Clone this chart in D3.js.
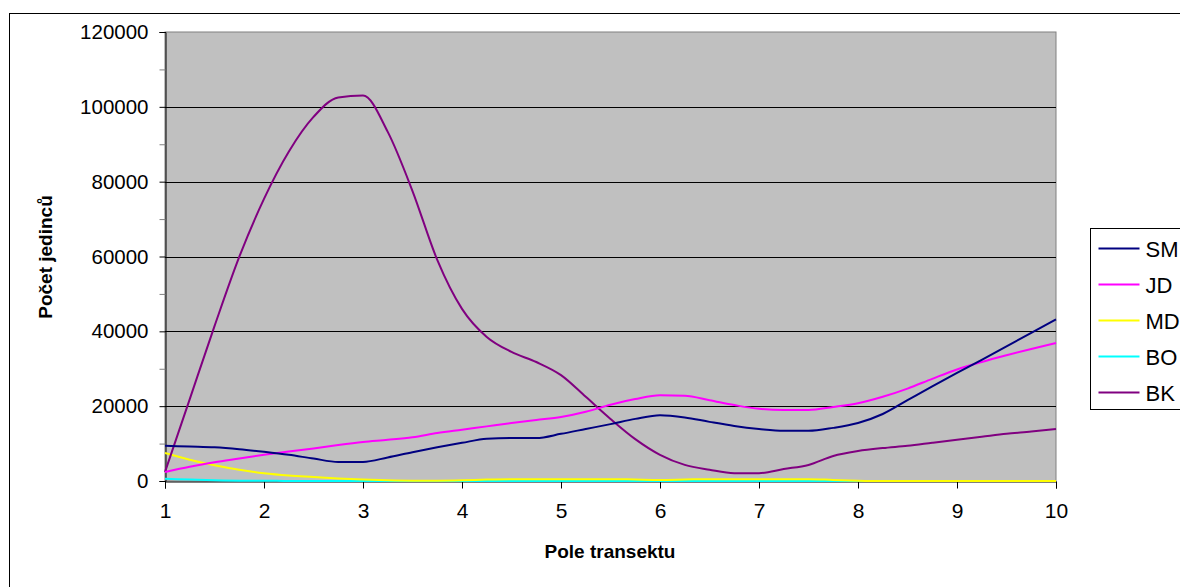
<!DOCTYPE html>
<html>
<head>
<meta charset="utf-8">
<script src="https://cdn.jsdelivr.net/npm/d3@7"></script>
<style>
  body { margin: 0; background: #fff; }
  svg text { font-family: "Liberation Sans", Arial, sans-serif; }
</style>
</head>
<body>
<div id="chart"></div>
<script>
// pole transektu (x) - shared by every series
const pole = [1, 1.25, 1.5, 1.75, 2, 2.25, 2.5, 2.75, 3, 3.25, 3.5, 3.75, 4, 4.25, 4.5, 4.75,
  5, 5.25, 5.5, 5.75, 6, 6.25, 6.5, 6.75, 7, 7.25, 7.5, 7.75, 8, 8.25, 8.5, 8.75, 9, 9.25, 9.5, 9.75, 10];

const SM = [9400, 9200, 9000, 8500, 7800, 7000, 6000, 5100, 5100, 6300, 7700, 9000, 10200, 11300, 11500, 11500,
  12600, 13900, 15200, 16600, 17600, 17000, 15800, 14700, 13900, 13400, 13400, 14200, 15500, 17900, 21600, 25300, 28900, 32400, 36000, 39600, 43200];
const JD = [2400, 3800, 5000, 6000, 7000, 7900, 8700, 9600, 10400, 11000, 11700, 12800, 13700, 14600, 15500, 16300,
  17100, 18500, 20400, 21900, 22900, 22800, 21600, 20300, 19300, 19000, 19000, 19800, 20800, 22500, 24700, 27300, 29800, 31800, 33600, 35300, 36900];
const MD = [7500, 5700, 4200, 3000, 2100, 1500, 1100, 700, 400, 200, 100, 100, 200, 400, 500, 500,
  500, 500, 500, 400, 300, 400, 500, 500, 500, 500, 500, 300, 100, 0, 0, 0, 0, 0, 0, 0, 0];
const BO = [600, 400, 200, 100, 100, 0, 0, 0, 0, 0, 0, 0, 0, 0, 0, 0,
  0, 0, 0, 0, 0, 0, 0, 0, 0, 0, 0, 0, 0, 0, 0, 0, 0, 0, 0, 0, 0];
const BK = [2400, 21900, 41400, 59900, 75400, 88000, 97300, 102500, 103000, 93300, 77500, 59100, 46000, 38500, 34500, 31800,
  28300, 22500, 16600, 11200, 7000, 4300, 3000, 2100, 2100, 3200, 4300, 6700, 8000, 8800, 9400, 10200, 11000, 11800, 12600, 13200, 13900];

const seriesNames = ['SM', 'JD', 'MD', 'BO', 'BK'];
const seriesValues = [SM, JD, MD, BO, BK];
const seriesColors = ['#000080', '#FF00FF', '#FFFF00', '#00FFFF', '#800080'];

const xTicks = [1, 2, 3, 4, 5, 6, 7, 8, 9, 10];
const yTicks = [0, 20000, 40000, 60000, 80000, 100000, 120000];

class TransectChart {
  constructor(selector, w, h) {
    this.w = w;
    this.h = h;
    this.plot = { left: 165, right: 1056, top: 32, bottom: 481 };
    this.svg = d3.select(selector).html("")
      .append('svg')
      .attr('width', this.w)
      .attr('height', this.h);
    this.xScale = d3.scaleLinear().domain([1, 10]).range([this.plot.left, this.plot.right]);
    this.yScale = d3.scaleLinear().domain([0, 120000]).range([this.plot.bottom, this.plot.top]);
  }

  draw() {
    const p = this.plot;

    // outer chart frame (runs off the right and bottom edge)
    this.svg.append('rect')
      .attr('x', 9.5).attr('y', 13.5)
      .attr('width', 1300).attr('height', 700)
      .attr('fill', '#fff').attr('stroke', '#000');

    this.svg.append('rect')
      .attr('x', p.left).attr('y', p.top)
      .attr('width', p.right - p.left).attr('height', p.bottom - p.top)
      .attr('fill', '#C0C0C0')
      .attr('stroke', '#808080');

    // gridlines
    this.svg.append('g')
      .selectAll('line')
      .data(yTicks.filter(d => d > 0 && d < 120000))
      .join('line')
      .attr('x1', p.left).attr('x2', p.right)
      .attr('y1', d => Math.round(this.yScale(d)) + 0.5)
      .attr('y2', d => Math.round(this.yScale(d)) + 0.5)
      .attr('stroke', '#000');

    // y axis with minor ticks
    const yAxis = d3.axisLeft(this.yScale)
      .tickValues(d3.range(0, 120001, 10000))
      .tickSize(6)
      .tickFormat(d => yTicks.includes(d) ? d : '');
    const gy = this.svg.append('g')
      .attr('transform', 'translate(' + (p.left + 0.5) + ',0)')
      .call(yAxis);
    gy.select('.domain').attr('stroke', '#000');
    gy.selectAll('.tick line').attr('stroke', d => yTicks.includes(d) ? '#000' : '#808080');
    gy.selectAll('.tick text')
      .attr('x', -17)
      .attr('font-size', 20.5)
      .attr('fill', '#000');

    const xAxis = d3.axisBottom(this.xScale)
      .tickValues(xTicks)
      .tickSize(7)
      .tickFormat(d3.format('d'));
    const gx = this.svg.append('g')
      .attr('transform', 'translate(0,' + (p.bottom + 0.5) + ')')
      .call(xAxis);
    gx.select('.domain').attr('stroke', '#000');
    gx.selectAll('.tick line').attr('stroke', '#000');
    gx.selectAll('.tick text')
      .attr('y', 22)
      .attr('font-size', 21)
      .attr('fill', '#000');

    // series
    const line = d3.line()
      .x((d, i) => this.xScale(pole[i]))
      .y(d => this.yScale(d))
      .curve(d3.curveMonotoneX);
    // BO first so it sits on the axis line, the rest in legend order
    const order = [3, 2, 4, 1, 0];
    order.forEach(k => {
      this.svg.append('path')
        .datum(seriesValues[k])
        .attr('d', line)
        .attr('fill', 'none')
        .attr('stroke', seriesColors[k])
        .attr('stroke-width', 2);
    });

    // axis titles
    this.svg.append('text')
      .attr('x', 610).attr('y', 558)
      .attr('text-anchor', 'middle')
      .attr('font-size', 19)
      .attr('font-weight', 'bold')
      .text('Pole transektu');
    this.svg.append('text')
      .attr('transform', 'translate(52,257) rotate(-90)')
      .attr('text-anchor', 'middle')
      .attr('font-size', 19)
      .attr('font-weight', 'bold')
      .text('Počet jedinců');

    this.drawLegend();
  }

  drawLegend() {
    const lg = this.svg.append('g').attr('transform', 'translate(1090.5,228.5)');
    lg.append('rect')
      .attr('width', 120).attr('height', 181)
      .attr('fill', '#fff').attr('stroke', '#000');
    const item = lg.selectAll('g.item')
      .data(seriesNames)
      .join('g')
      .attr('class', 'item')
      .attr('transform', (d, i) => 'translate(0,' + (20 + i * 36) + ')');
    item.append('line')
      .attr('x1', 8).attr('x2', 49)
      .attr('stroke', (d, i) => seriesColors[i])
      .attr('stroke-width', 2);
    item.append('text')
      .attr('x', 55).attr('y', 8)
      .attr('font-size', 22)
      .text(d => d);
  }
}

const chart = new TransectChart('#chart', 1180, 587);
chart.draw();
</script>
</body>
</html>
